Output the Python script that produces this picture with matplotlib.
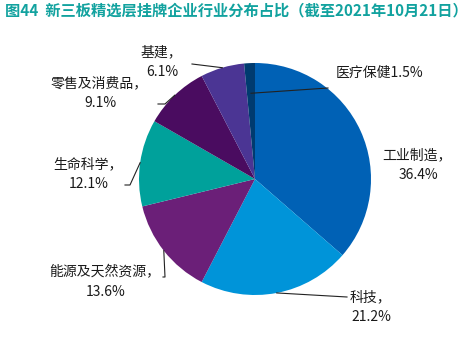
import numpy as np
import matplotlib.pyplot as plt

plt.rcParams['font.family'] = ['Noto Sans CJK SC', 'DejaVu Sans']

# industry shares (%), clockwise from 12 o'clock
sectors = ['工业制造', '科技', '能源及天然资源', '生命科学', '零售及消费品', '基建', '医疗保健']
shares = [36.4, 21.2, 13.6, 12.1, 9.1, 6.1, 1.5]
colors = ['#0061b5', '#0094d9', '#6b1f78', '#00a19b', '#4a0c60', '#4b3594', '#003b6f']

title = '图44  新三板精选层挂牌企业行业分布占比（截至2021年10月21日）'

fig = plt.figure(figsize=(4.68, 3.49), dpi=100)
ax = fig.add_axes([0, 0, 1, 1])

cx, cy, r = 255, 179, 116
wedges, _ = ax.pie(shares, colors=colors, center=(cx, cy), radius=r,
                   startangle=-90, counterclock=True, frame=True,
                   wedgeprops=dict(linewidth=0))
ax.set_xlim(0, 468)
ax.set_ylim(349, 0)
ax.set_aspect('equal')
ax.axis('off')

# mid angle of each wedge, measured clockwise from the top
ends = np.cumsum(shares) / 100 * 360
mids = ends - np.array(shares) / 100 * 360 / 2


def edge_point(i, frac=1.0):
    phi = np.radians(mids[i])
    return cx + r * frac * np.sin(phi), cy - r * frac * np.cos(phi)


txt = dict(fontsize=10, color='#1a1a1a', va='center')
ln = dict(color='#222222', lw=0.8)

# label text: (line 1, line 2, x, y of line 1)
labels = {
    0: ('工业制造，', '36.4%', 417, 155),
    1: ('科技，', '21.2%', 370, 297),
    2: ('能源及天然资源，', '13.6%', 105, 272),
    3: ('生命科学，', '12.1%', 88, 164),
    4: ('零售及消费品，', '9.1%', 99, 83),
    5: ('基建，', '6.1%', 161, 52),
}
for i, (l1, l2, x, y) in labels.items():
    ax.text(x, y, l1, ha='center', **txt)
    ax.text(x + 1, y + 20, l2, ha='center', **txt)

ax.text(336, 73, f'{sectors[6]}{shares[6]}%', ha='left', **txt)

# leader lines
leaders = {
    1: [(347, 297)],
    2: [(165, 277), (163, 277)],
    3: [(130, 185), (125, 185)],
    4: [(165, 104), (158, 104)],
    5: [(192, 64)],
}
for i, pts in leaders.items():
    x0, y0 = edge_point(i)
    xs = [x0] + [p[0] for p in pts]
    ys = [y0] + [p[1] for p in pts]
    ax.plot(xs, ys, **ln)

x0, y0 = edge_point(6, 0.74)
ax.plot([x0, 328], [y0, 88], **ln)

ax.text(5, 10, title, fontsize=11, fontweight='bold', color='#12a29f',
        ha='left', va='center')

fig.savefig('out.png', dpi=100)
